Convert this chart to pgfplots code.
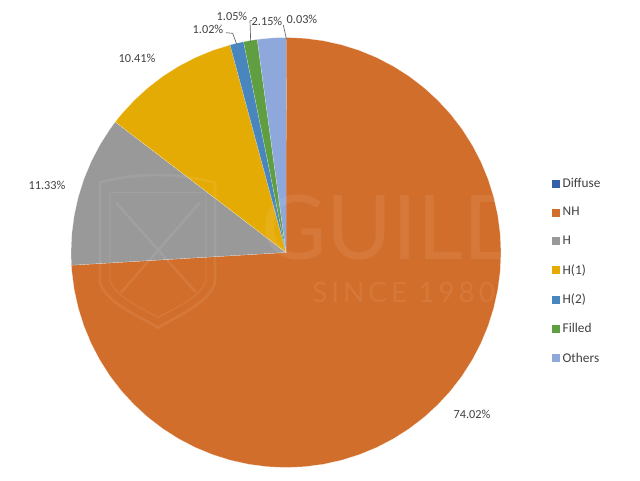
\documentclass[border=0pt]{standalone}
\usepackage{fontspec}
\setmainfont{Carlito}
\newfontfamily\wmfont{Lato}
\newfontfamily\wmspaced[LetterSpace=14]{Lato}
\usepackage{pgfplots}
\pgfplotsset{compat=1.18}

\definecolor{cDiffuse}{HTML}{3560A8}
\definecolor{cNH}{HTML}{D26E2B}
\definecolor{cH}{HTML}{999999}
\definecolor{cHa}{HTML}{E5AB05}
\definecolor{cHb}{HTML}{4A86BE}
\definecolor{cFilled}{HTML}{5F9E41}
\definecolor{cOthers}{HTML}{8FA8DC}
\definecolor{txt}{HTML}{404040}

\pgfplotsset{
  wedge/.style={fill=#1, draw=white, line width=0.08pt},
  leader/.style={draw=txt!80, line width=0.5pt, no markers, forget plot},
}
\tikzset{lbl/.style={font=\fontsize{9.2}{10}\selectfont, text=txt, inner sep=0pt}}

\begin{document}
\begin{tikzpicture}
\begin{axis}[
  data cs=polar,
  scale only axis, width=480pt, height=360pt,
  xmin=-286, xmax=354, ymin=-227.5, ymax=252.5,
  hide axis, clip=false,
  legend cell align=left,
  legend style={at={(axis cs:266,77)}, anchor=north west, draw=none, fill=none,
    font=\fontsize{10}{11}\selectfont\color{txt}, row sep=9.45pt, inner sep=0pt, outer sep=0pt,
    /tikz/every even column/.append style={column sep=0pt}},
  legend image code/.code={\fill[#1, draw=none] (0pt,-3pt) rectangle (6pt,3pt);},
]
\path[use as bounding box] (rel axis cs:0,0) rectangle (rel axis cs:1,1);
% angles are degrees, counter-clockwise from east; radius 215
\addplot[wedge=cDiffuse] coordinates {(0,0) (90,215) (89.9,215)};
\addlegendentry{Diffuse}
\addplot[wedge=cNH] coordinates {(0,0) (89.9,215) (85,215) (80,215) (75,215) (70,215) (65,215) (60,215)
  (55,215) (50,215) (45,215) (40,215) (35,215) (30,215) (25,215) (20,215) (15,215) (10,215) (5,215) (0,215)
  (-5,215) (-10,215) (-15,215) (-20,215) (-25,215) (-30,215) (-35,215) (-40,215) (-45,215) (-50,215)
  (-55,215) (-60,215) (-65,215) (-70,215) (-75,215) (-80,215) (-85,215) (-90,215) (-95,215) (-100,215)
  (-105,215) (-110,215) (-115,215) (-120,215) (-125,215) (-130,215) (-135,215) (-140,215) (-145,215)
  (-150,215) (-155,215) (-160,215) (-165,215) (-170,215) (-175,215) (-176.6,215)};
\addlegendentry{NH}
\addplot[wedge=cH] coordinates {(0,0) (-176.6,215) (-180,215) (-185,215) (-190,215) (-195,215) (-200,215)
  (-205,215) (-210,215) (-215,215) (-217.4,215)};
\addlegendentry{H}
\addplot[wedge=cHa] coordinates {(0,0) (-217.4,215) (-220,215) (-225,215) (-230,215) (-235,215) (-240,215)
  (-245,215) (-250,215) (-254.9,215)};
\addlegendentry{H(1)}
\addplot[wedge=cHb] coordinates {(0,0) (-254.9,215) (-256.7,215) (-258.6,215)};
\addlegendentry{H(2)}
\addplot[wedge=cFilled] coordinates {(0,0) (-258.6,215) (-260.5,215) (-262.3,215)};
\addlegendentry{Filled}
\addplot[wedge=cOthers] coordinates {(0,0) (-262.3,215) (-265,215) (-267.5,215) (-270,215)};
\addlegendentry{Others}

% leader lines, cartesian
\addplot[leader, data cs=cart] coordinates {(-60,219.8) (-53.3,219.2) (-49.3,208.2)};
\addplot[leader, data cs=cart] coordinates {(-34,232) (-36,231.8) (-35.3,210.5)};
\addplot[leader, data cs=cart] coordinates {(-2.7,227.5) (0.5,213.2)};

% data labels
\node[lbl] at (axis cs:186,-161.5) {74.02\%};
\node[lbl] at (axis cs:-239,67.5) {11.33\%};
\node[lbl] at (axis cs:-149,194.5) {10.41\%};
\node[lbl] at (axis cs:-78,223.5) {1.02\%};
\node[lbl] at (axis cs:-54,236) {1.05\%};
\node[lbl] at (axis cs:-19,231.5) {2.15\%};
\node[lbl] at (axis cs:16,233.5) {0.03\%};

% faint watermark
\begin{scope}[white, opacity=0.07]
\node[inner sep=0pt, anchor=west, font=\wmfont\fontsize{67}{70}\selectfont] at (axis cs:-25,25) {GUILD};
\node[inner sep=0pt, anchor=west, font=\wmspaced\fontsize{21}{23}\selectfont] at (axis cs:26,-40) {SINCE 1980};
\draw[line width=2pt] (axis cs:-186,70) -- (axis cs:-186,-30) .. controls (axis cs:-180,-50) and (axis cs:-150,-62) .. (axis cs:-128,-75)
  .. controls (axis cs:-105,-62) and (axis cs:-77,-50) .. (axis cs:-71,-30) -- (axis cs:-71,70)
  .. controls (axis cs:-110,80) and (axis cs:-150,80) .. cycle;
\draw[line width=1pt] (axis cs:-176,60) -- (axis cs:-176,-28) .. controls (axis cs:-170,-45) and (axis cs:-145,-55) .. (axis cs:-128,-65)
  .. controls (axis cs:-110,-55) and (axis cs:-85,-45) .. (axis cs:-80,-28) -- (axis cs:-80,60) -- cycle;
\draw[line width=2pt] (axis cs:-170,50) -- (axis cs:-90,-40) (axis cs:-86,50) -- (axis cs:-165,-40);
\end{scope}
\end{axis}
\end{tikzpicture}
\end{document}
